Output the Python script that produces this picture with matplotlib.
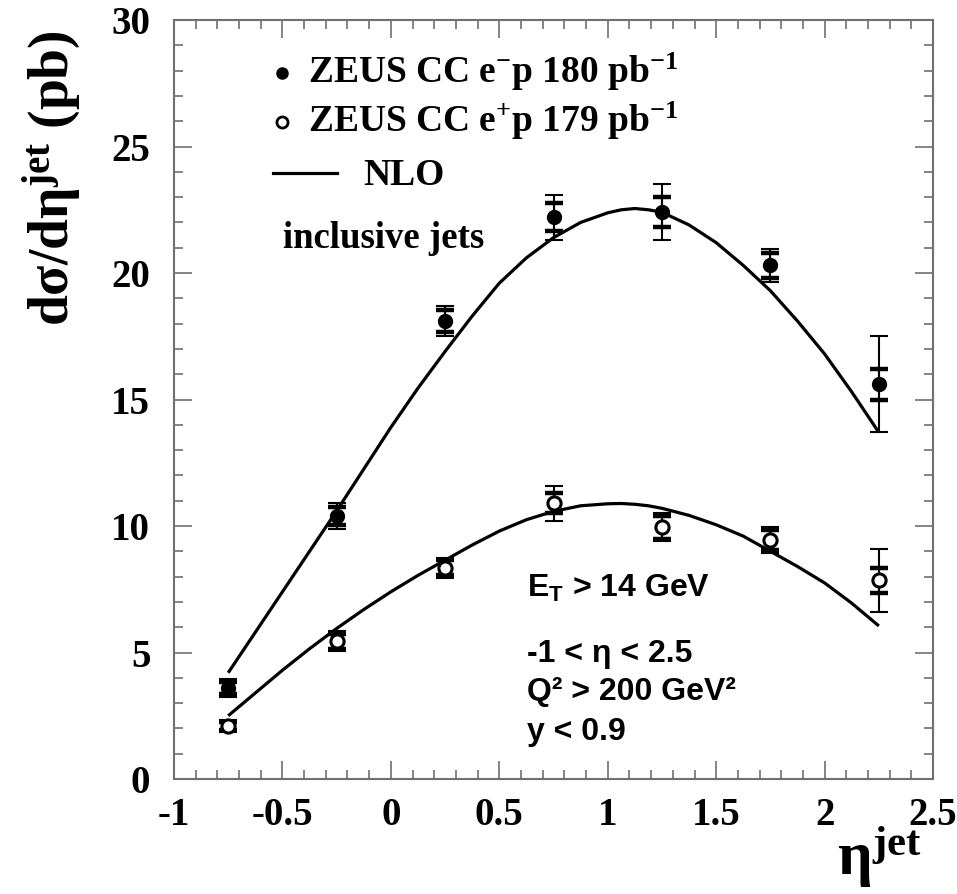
import matplotlib
matplotlib.use("Agg")
import matplotlib.pyplot as plt
from matplotlib.ticker import MultipleLocator, FixedLocator

plt.rcParams['mathtext.fontset'] = 'custom'
plt.rcParams['mathtext.rm'] = 'Liberation Serif:bold'
plt.rcParams['mathtext.it'] = 'Liberation Serif:bold'
plt.rcParams['mathtext.bf'] = 'Liberation Serif:bold'
plt.rcParams['mathtext.sf'] = 'Liberation Sans:bold'
plt.rcParams['mathtext.default'] = 'rm'

# ---- data ----
eta = [-0.75, -0.25, 0.25, 0.75, 1.25, 1.75, 2.25]

em_val = [3.6, 10.4, 18.1, 22.2, 22.4, 20.3, 15.6]
em_stat = [0.25, 0.35, 0.45, 0.55, 0.6, 0.5, 0.6]
em_tot = [0.35, 0.5, 0.6, 0.9, 1.1, 0.65, 1.9]

ep_val = [2.1, 5.45, 8.35, 10.9, 9.95, 9.45, 7.85]
ep_stat = [0.15, 0.3, 0.3, 0.4, 0.45, 0.4, 0.5]
ep_tot = [0.25, 0.4, 0.4, 0.7, 0.55, 0.5, 1.25]

nlo_eta = [-0.75, -0.625, -0.5, -0.375, -0.25, -0.125, 0.0, 0.125, 0.25, 0.375,
           0.5, 0.625, 0.75, 0.875, 1.0, 1.0625, 1.125, 1.1875, 1.25, 1.375, 1.5, 1.625,
           1.75, 1.875, 2.0, 2.125, 2.25]
nlo_em = [4.2, 5.8, 7.4, 9.0, 10.6, 12.25, 13.9, 15.45, 16.9, 18.3,
          19.6, 20.6, 21.4, 22.0, 22.38, 22.5, 22.55, 22.5, 22.4, 21.9, 21.2, 20.3,
          19.3, 18.1, 16.8, 15.3, 13.7]
nlo_ep = [2.5, 3.4, 4.3, 5.15, 5.95, 6.7, 7.4, 8.05, 8.65, 9.25,
          9.8, 10.25, 10.58, 10.8, 10.88, 10.89, 10.86, 10.8, 10.7, 10.42, 10.05, 9.6,
          9.0, 8.4, 7.75, 6.95, 6.05]

xticks = [-1, -0.5, 0, 0.5, 1, 1.5, 2, 2.5]
xtick_labels = ['-1', '-0.5', '0', '0.5', '1', '1.5', '2', '2.5']
yticks = [0, 5, 10, 15, 20, 25, 30]
ytick_labels = ['0', '5', '10', '15', '20', '25', '30']

# ---- figure ----
fig = plt.figure(figsize=(9.57, 8.94), dpi=100)
ax = fig.add_axes([0.1818, 0.1286, 0.975 - 0.1818, 0.9776 - 0.1286])

ax.plot(nlo_eta, nlo_em, color='black', lw=2.3, solid_capstyle='butt', solid_joinstyle='round', zorder=2)
ax.plot(nlo_eta, nlo_ep, color='black', lw=2.3, solid_capstyle='butt', solid_joinstyle='round', zorder=2)

for vals, tot, stat, filled in [(em_val, em_tot, em_stat, True), (ep_val, ep_tot, ep_stat, False)]:
    ax.errorbar(eta, vals, yerr=tot, fmt='none', ecolor='black', elinewidth=1.5,
                capsize=6.5, capthick=1.5, zorder=3)
    ax.errorbar(eta, vals, yerr=stat, fmt='none', ecolor='black', elinewidth=1.5,
                capsize=6.5, capthick=3.2, zorder=3)
    if filled:
        ax.plot(eta, vals, 'o', ms=9.5, mfc='black', mec='black', mew=1.5, zorder=4)
    else:
        ax.plot(eta, vals, 'o', ms=9.5, mfc='white', mec='black', mew=2.2, zorder=4)

ax.set_xlim(-1, 2.5)
ax.set_ylim(0, 30)

ax.xaxis.set_major_locator(FixedLocator(xticks))
ax.set_xticklabels(xtick_labels)
ax.yaxis.set_major_locator(FixedLocator(yticks))
ax.set_yticklabels(ytick_labels)
ax.xaxis.set_minor_locator(MultipleLocator(0.1))
ax.yaxis.set_minor_locator(MultipleLocator(1))

gray = '#707070'
for s in ax.spines.values():
    s.set_color(gray)
    s.set_linewidth(1.5)
ax.tick_params(which='both', direction='in', top=True, right=True, color=gray, width=1.2)
ax.tick_params(which='major', length=13)
ax.tick_params(which='minor', length=6.5)
ax.tick_params(axis='x', pad=13)
ax.tick_params(axis='y', pad=17)
for lab in ax.get_xticklabels() + ax.get_yticklabels():
    lab.set_fontfamily('Liberation Serif')
    lab.set_fontweight('bold')
    lab.set_fontsize(28)

serif = dict(family='Liberation Serif', weight='bold')
sans = dict(family='Liberation Sans', weight='bold')

# y label
ax.text(-0.162, 0.792, r'd$\sigma$/d$\eta^{jet}$ (pb)', transform=ax.transAxes,
        rotation=90, ha='center', va='center', fontsize=40, **serif)
# x label
ax.text(0.985, -0.127, r'$\eta^{jet}$', transform=ax.transAxes,
        ha='right', va='baseline', fontsize=44, **serif)

# legend (manual)
ax.plot([0.142], [0.930], 'o', ms=8, mfc='black', mec='black', transform=ax.transAxes, clip_on=False)
ax.text(0.177, 0.917, r'ZEUS CC e$^{-}$p 180 pb$^{-1}$', transform=ax.transAxes,
        ha='left', va='baseline', fontsize=27, **serif)
ax.plot([0.142], [0.866], 'o', ms=8, mfc='white', mec='black', mew=2, transform=ax.transAxes, clip_on=False)
ax.text(0.177, 0.852, r'ZEUS CC e$^{+}$p 179 pb$^{-1}$', transform=ax.transAxes,
        ha='left', va='baseline', fontsize=27, **serif)
ax.plot([0.130, 0.215], [0.798, 0.798], color='black', lw=2.3, transform=ax.transAxes)
ax.text(0.249, 0.783, 'NLO', transform=ax.transAxes,
        ha='left', va='baseline', fontsize=27, **serif)
ax.text(0.144, 0.700, 'inclusive jets', transform=ax.transAxes,
        ha='left', va='baseline', fontsize=26.5, **serif)

# cuts annotation
ax.text(0.465, 0.240, r'$\mathsf{E_T}$ > 14 GeV', transform=ax.transAxes,
        ha='left', va='baseline', fontsize=23, **sans)
ax.text(0.465, 0.154, '-1 < η < 2.5', transform=ax.transAxes,
        ha='left', va='baseline', fontsize=23, **sans)
ax.text(0.465, 0.104, 'Q² > 200 GeV²', transform=ax.transAxes,
        ha='left', va='baseline', fontsize=23, **sans)
ax.text(0.465, 0.051, 'y < 0.9', transform=ax.transAxes,
        ha='left', va='baseline', fontsize=23, **sans)

fig.savefig('out.png', dpi=100)
